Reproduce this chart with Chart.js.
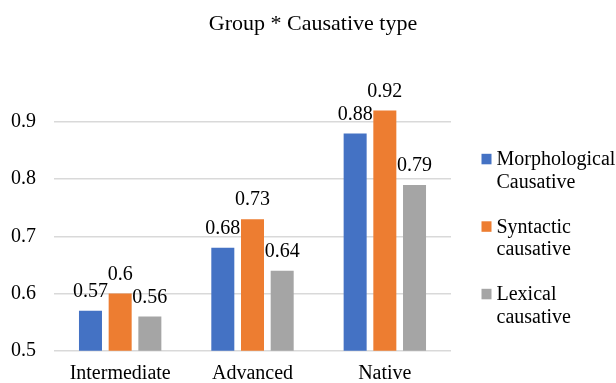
<!DOCTYPE html>
<html>
<head>
<meta charset="utf-8">
<title>Group * Causative type</title>
<script src="https://cdn.jsdelivr.net/npm/chart.js@4.4.1/dist/chart.umd.min.js"></script>
<style>
  html, body { margin: 0; padding: 0; background: #ffffff; }
  #wrap { width: 616px; height: 383px; }
</style>
</head>
<body>
<div id="wrap"><canvas id="chart" width="616" height="383"></canvas></div>
<script>
// Groups on the x axis
const groups = ['Intermediate', 'Advanced', 'Native'];

// Mean scores per causative type
const morphological = [0.57, 0.68, 0.88];
const syntactic = [0.60, 0.73, 0.92];
const lexical = [0.56, 0.64, 0.79];

// Series names, split over two legend lines
const seriesNames = ['Morphological Causative', 'Syntactic causative', 'Lexical causative'];
const legendLines = [['Morphological', 'Causative'], ['Syntactic', 'causative'], ['Lexical', 'causative']];

const chartTitle = 'Group * Causative type';
const colors = ['#4472C4', '#ED7D31', '#A5A5A5'];
const SERIF = "'Liberation Serif', 'DejaVu Serif', serif";

// Title centred over the whole canvas
const centeredTitle = {
  id: 'centeredTitle',
  afterDraw(chart) {
    const ctx = chart.ctx;
    ctx.save();
    ctx.font = '22px ' + SERIF;
    ctx.fillStyle = '#000000';
    ctx.textAlign = 'center';
    ctx.textBaseline = 'alphabetic';
    ctx.fillText(chartTitle, 313, 30);
    ctx.restore();
  }
};

// Value labels above each bar
const valueLabels = {
  id: 'valueLabels',
  afterDatasetsDraw(chart) {
    const ctx = chart.ctx;
    ctx.save();
    ctx.font = '20px ' + SERIF;
    ctx.fillStyle = '#000000';
    ctx.textAlign = 'center';
    ctx.textBaseline = 'middle';
    chart.data.datasets.forEach((ds, i) => {
      const meta = chart.getDatasetMeta(i);
      meta.data.forEach((bar, j) => {
        ctx.fillText(String(ds.data[j]), bar.x, bar.y - 19);
      });
    });
    ctx.restore();
  }
};

// Legend on the right with wrapped labels
const sideLegend = {
  id: 'sideLegend',
  afterDraw(chart) {
    const ctx = chart.ctx;
    const area = chart.chartArea;
    const x0 = area.right + 30.5;
    const y0 = area.top + 89;
    ctx.save();
    ctx.font = '20px ' + SERIF;
    ctx.textAlign = 'left';
    ctx.textBaseline = 'middle';
    chart.data.datasets.forEach((ds, i) => {
      const top = y0 + i * 67.5;
      ctx.fillStyle = ds.backgroundColor;
      ctx.fillRect(x0, top, 10, 10.5);
      ctx.fillStyle = '#000000';
      legendLines[i].forEach((line, k) => {
        ctx.fillText(line, x0 + 15, top + 6 + k * 22.5);
      });
    });
    ctx.restore();
  }
};

new Chart(document.getElementById('chart'), {
  type: 'bar',
  data: {
    labels: groups,
    datasets: [
      { label: seriesNames[0], data: morphological, backgroundColor: colors[0] },
      { label: seriesNames[1], data: syntactic, backgroundColor: colors[1] },
      { label: seriesNames[2], data: lexical, backgroundColor: colors[2] }
    ]
  },
  options: {
    responsive: false,
    animation: false,
    devicePixelRatio: 1,
    categoryPercentage: 0.673,
    barPercentage: 0.775,
    layout: { padding: { left: 0, right: 165, top: 64.8, bottom: 0 } },
    plugins: {
      legend: { display: false },
      tooltip: { enabled: false },
      title: { display: false }
    },
    scales: {
      x: {
        grid: { display: false, drawTicks: false },
        border: { display: false },
        ticks: {
          color: '#000000',
          font: { family: SERIF, size: 20 },
          padding: 11
        },
        afterFit(scale) { scale.height = 32.3; }
      },
      y: {
        min: 0.5,
        max: 1.0,
        grid: {
          drawTicks: false,
          lineWidth: 1.5,
          color: (c) => (c.tick && c.tick.value > 0.95) ? 'rgba(0,0,0,0)' : '#d9d9d9'
        },
        border: { display: false },
        ticks: {
          stepSize: 0.1,
          color: '#000000',
          font: { family: SERIF, size: 20 },
          padding: 18,
          callback: (v) => v > 0.95 ? '' : Number(v).toFixed(1)
        },
        afterFit(scale) { scale.width = 54; }
      }
    }
  },
  plugins: [valueLabels, sideLegend, centeredTitle]
});
</script>
</body>
</html>
